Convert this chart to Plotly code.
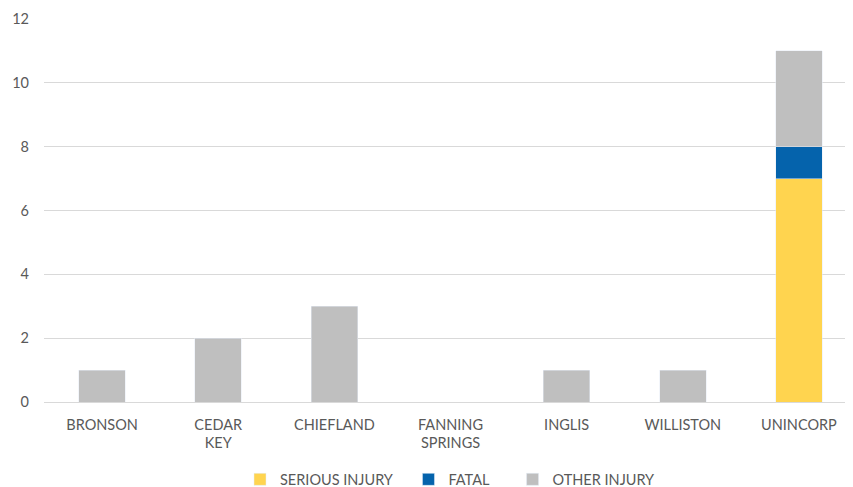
import plotly.graph_objects as go

categories = ["BRONSON", "CEDAR KEY", "CHIEFLAND", "FANNING SPRINGS", "INGLIS", "WILLISTON", "UNINCORP"]
tick_labels = ["BRONSON", "CEDAR<br>KEY", "CHIEFLAND", "FANNING<br>SPRINGS", "INGLIS", "WILLISTON", "UNINCORP"]
series_names = ["SERIOUS INJURY", "FATAL", "OTHER INJURY"]
serious_injury = [0, 0, 0, 0, 0, 0, 7]
fatal = [0, 0, 0, 0, 0, 0, 1]
other_injury = [1, 2, 3, 0, 1, 1, 3]
y_ticks = [0, 2, 4, 6, 8, 10, 12]

FONT = "Lato"
TXT = "#595959"
NB = "\u00a0"

fig = go.Figure()
fig.add_trace(go.Bar(name=series_names[0] + NB * 3, x=categories, y=serious_injury, marker_color="#FFD44F"))
fig.add_trace(go.Bar(name=series_names[1] + NB * 5, x=categories, y=fatal, marker_color="#0563AC"))
fig.add_trace(go.Bar(name=series_names[2], x=categories, y=other_injury, marker_color="#BFBFBF"))

fig.update_layout(
    barmode="stack",
    bargap=0.6,
    width=853, height=487,
    margin=dict(l=36, r=4, t=11, b=93, autoexpand=False),
    paper_bgcolor="white", plot_bgcolor="white",
    font=dict(family=FONT, size=14.5, color=TXT),
    showlegend=True,
    legend=dict(orientation="h", x=0.5, xanchor="center", yref="container",
                y=0.032, yanchor="middle",
                traceorder="normal", font=dict(family=FONT, size=14.5, color=TXT),
                itemwidth=30),
    xaxis=dict(tickmode="array", tickvals=categories, ticktext=tick_labels,
               showgrid=False, showline=False, ticks="", automargin=False,
               ticklabelstandoff=12, tickfont=dict(size=14.5, color=TXT)),
    yaxis=dict(range=[0, 12], tickmode="array", tickvals=y_ticks, showgrid=True,
               gridcolor="#D9D9D9", gridwidth=1, zeroline=True, zerolinecolor="#D9D9D9",
               zerolinewidth=1, ticks="", ticklabelstandoff=14, automargin=False,
               tickfont=dict(size=14.5, color=TXT)),
)

fig.write_html("out.html")
